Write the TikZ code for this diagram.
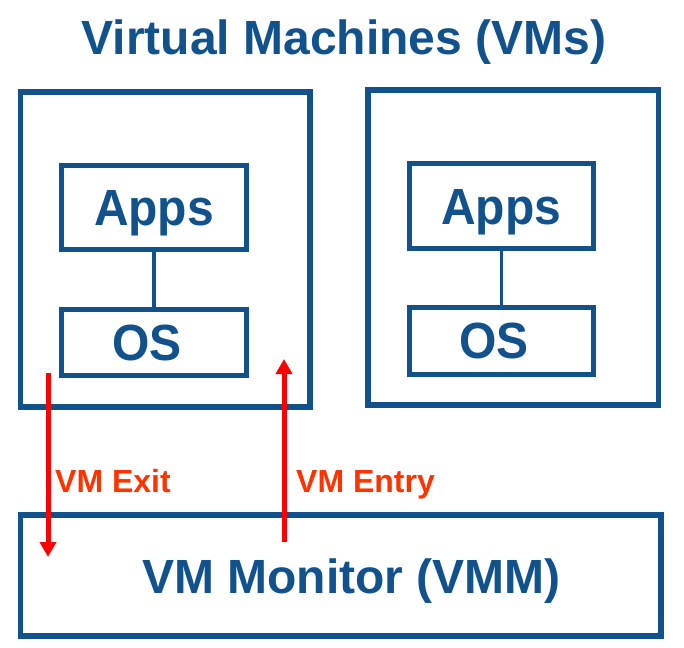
\documentclass[tikz,border=0pt]{standalone}
\usepackage{fontspec}
\usepackage{graphicx}
\setmainfont{Liberation Sans}
\usetikzlibrary{arrows.meta}
\definecolor{vmblue}{RGB}{17,82,140}
\definecolor{arrred}{RGB}{255,0,0}
\definecolor{lblred}{RGB}{255,51,0}
\newcommand{\tallword}[1]{\scalebox{1}[1.06]{#1}}
\begin{document}
\begin{tikzpicture}[x=1pt,y=-1pt,
  bigtext/.style={font=\fontsize{48}{48}\selectfont\bfseries, text=vmblue},
  vmbox/.style={draw=vmblue, line width=5.5pt, inner sep=0pt},
  layerbox/.style={draw=vmblue, line width=5pt, inner sep=0pt, text height=36.4pt, text depth=0pt, bigtext},
  link/.style={draw=vmblue, line width=3.5pt},
  trans/.style={draw=arrred, line width=5pt, -{Triangle[width=16pt,length=15pt]}},
  translabel/.style={font=\fontsize{32}{32}\selectfont\bfseries, text=lblred, anchor=base west, inner sep=0pt}]
\useasboundingbox (0,0) rectangle (684,647);

\node[bigtext, anchor=base, inner sep=0pt] (title) at (344,55) {Virtual Machines (VMs)};

\node[vmbox, minimum width=289.5pt, minimum height=315pt] (vm1) at (165.25,249.5) {};
\node[vmbox, minimum width=290.5pt, minimum height=315pt] (vm2) at (513.25,247.5) {};

\node[layerbox, minimum width=185pt, minimum height=84.5pt] (apps1) at (154,207.25) {\tallword{Apps}};
\node[layerbox, minimum width=185pt, minimum height=66pt] (os1) at (154,342.5) {\tallword{OS}\hspace*{14pt}};
\node[layerbox, minimum width=184.5pt, minimum height=85pt] (apps2) at (501.25,206) {\tallword{Apps}};
\node[layerbox, minimum width=184.5pt, minimum height=67.5pt] (os2) at (501.25,340.75) {\tallword{OS}\hspace*{14pt}};

\draw[link] (apps1.south) -- (os1.north);
\draw[link] (apps2.south) -- (os2.north);

\node[vmbox, minimum width=640.5pt, minimum height=121pt] (vmm) at (340.75,575.5) {};
\node[bigtext, anchor=base, inner sep=0pt] (vmmtext) at (351.5,593) {VM Monitor (VMM)};

\coordinate (exitstart) at (48,373);
\coordinate (exitend) at (48,557);
\coordinate (entrystart) at (284,542);
\coordinate (entryend) at (284,359);
\draw[trans] (exitstart) -- (exitend);
\draw[trans] (entrystart) -- (entryend);

\node[translabel] (exitlabel) at (55,492) {VM Exit};
\node[translabel] (entrylabel) at (296,492) {VM Entry};
\end{tikzpicture}
\end{document}
